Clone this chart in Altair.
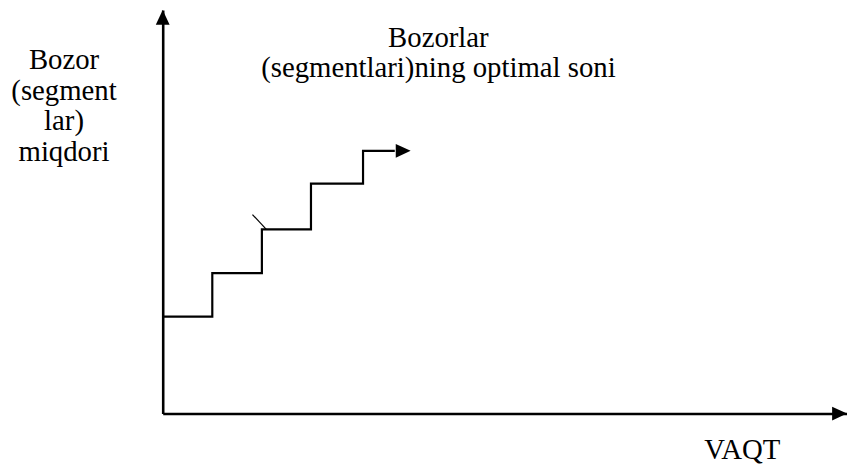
import altair as alt
import pandas as pd

# ---- data ----
# staircase: number of market segments over time (step-after)
step_time = [0.0, 1.0, 2.0, 2.99, 4.04, 4.68]
step_count = [2.22, 3.22, 4.22, 5.27, 6.02, 6.02]

# arrow tip at the end of the staircase
end_time = [5.0]
end_count = [6.02]

# small stray stroke near the second step
mark_time = [1.81]
mark_time2 = [2.09]
mark_count = [4.56]
mark_count2 = [4.22]

x_max = 13.8
y_max = 9.25

title_lines = ["Bozorlar", "(segmentlari)ning optimal soni"]
y_title = ["Bozor", "(segment", "lar)", "miqdori"]
x_title = "VAQT"

FONT = "'Liberation Serif', 'Times New Roman', Times, serif"
FS = 29

steps = pd.DataFrame({"t": step_time, "n": step_count})
end = pd.DataFrame({"t": end_time, "n": end_count})
stray = pd.DataFrame({"t": mark_time, "t2": mark_time2, "n": mark_count, "n2": mark_count2})
xtip = pd.DataFrame({"t": [x_max], "n": [0]})
ytip = pd.DataFrame({"t": [0], "n": [y_max]})

xs = alt.Scale(domain=[0, x_max], nice=False, zero=False)
ys = alt.Scale(domain=[0, y_max], nice=False, zero=False)

common_axis = dict(domain=True, domainColor="black", domainWidth=2.6, ticks=False,
                   labels=False, grid=False, titleFont=FONT, titleFontSize=FS,
                   titleFontWeight="normal", titleColor="black", titleAngle=0,
                   titleAlign="center", titleBaseline="alphabetic")

xaxis = alt.Axis(title=x_title, titleX=584, titleY=45, **common_axis)
yaxis = alt.Axis(title=y_title, titleX=-100, titleY=59, titleLineHeight=31, **common_axis)

RIGHT = "M0,0L-2,-0.93L-2,0.93Z"
UP = "M0,0L-0.93,2L0.93,2Z"

line = alt.Chart(steps).mark_line(interpolate="step-after", color="black", strokeWidth=2.2).encode(
    x=alt.X("t:Q", scale=xs, axis=xaxis),
    y=alt.Y("n:Q", scale=ys, axis=yaxis),
)

end_arrow = alt.Chart(end).mark_point(shape=RIGHT, filled=True, size=225, color="black",
                                       opacity=1, strokeWidth=0).encode(
    x=alt.X("t:Q", scale=xs), y=alt.Y("n:Q", scale=ys))

x_arrow = alt.Chart(xtip).mark_point(shape=RIGHT, filled=True, size=225, color="black",
                                      opacity=1, strokeWidth=0).encode(
    x=alt.X("t:Q", scale=xs), y=alt.Y("n:Q", scale=ys))

y_arrow = alt.Chart(ytip).mark_point(shape=UP, filled=True, size=225, color="black",
                                      opacity=1, strokeWidth=0).encode(
    x=alt.X("t:Q", scale=xs), y=alt.Y("n:Q", scale=ys))

stroke = alt.Chart(stray).mark_rule(color="black", strokeWidth=1.2).encode(
    x=alt.X("t:Q", scale=xs), x2="t2:Q", y=alt.Y("n:Q", scale=ys), y2="n2:Q")

title = alt.Chart(pd.DataFrame({"a": [0]})).mark_text(
    text=title_lines, font=FONT, fontSize=FS, color="black", align="center",
    baseline="alphabetic", lineHeight=31).encode(
    x=alt.value(278), y=alt.value(37))

chart = alt.layer(line, stroke, end_arrow, x_arrow, y_arrow, title).properties(
    width=690, height=407,
    padding={"left": 156, "top": 0, "right": 0, "bottom": 56},
    autosize="none",
    background="white",
).configure_view(stroke=None)

chart.save("out.html", embed_options={"renderer": "svg", "actions": False})
